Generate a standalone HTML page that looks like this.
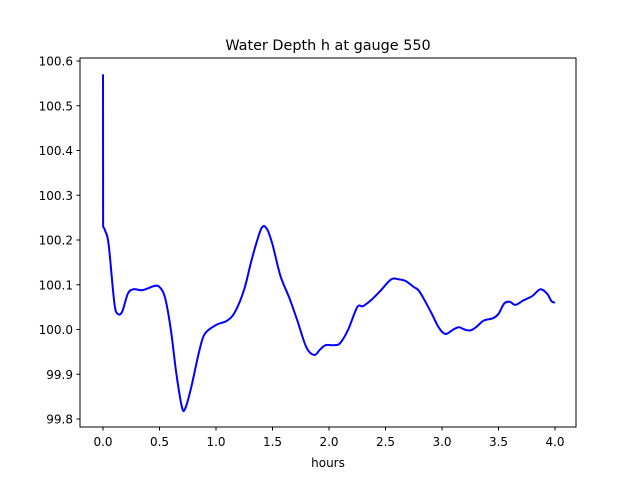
<!DOCTYPE html>
<html><head><meta charset="utf-8"><style>
body{margin:0;background:#fff;}
svg{display:block;font-family:"DejaVu Sans","Liberation Sans",sans-serif;}
</style></head><body>
<svg id="chart" width="640" height="480" viewBox="0 0 640 480" xmlns="http://www.w3.org/2000/svg">
<rect width="640" height="480" fill="#fff"/>
<text x="328" y="50" font-size="14.4" text-anchor="middle">Water Depth h at gauge 550</text>
<g id="plot"></g>
<rect x="80" y="58" width="496" height="369" fill="none" stroke="#000" stroke-width="1"/>
<text x="328" y="467" font-size="12" text-anchor="middle">hours</text>
</svg>
<script>
const times=[0,0.001,0.02,0.05,0.1,0.13,0.17,0.22,0.27,0.35,0.45,0.5,0.55,0.6,0.65,0.7,0.73,0.78,0.85,0.9,1.0,1.1,1.17,1.25,1.32,1.4,1.45,1.5,1.57,1.65,1.72,1.8,1.87,1.92,1.97,2.05,2.1,2.17,2.25,2.3,2.37,2.45,2.55,2.62,2.68,2.75,2.8,2.9,2.97,3.03,3.1,3.15,3.2,3.25,3.3,3.37,3.45,3.5,3.55,3.6,3.65,3.72,3.8,3.87,3.93,3.97,4.0];
const depths=[100.57,100.23,100.22,100.19,100.06,100.035,100.04,100.08,100.09,100.088,100.097,100.095,100.07,100.0,99.9,99.825,99.825,99.87,99.95,99.99,100.01,100.02,100.04,100.09,100.16,100.225,100.225,100.19,100.12,100.07,100.02,99.96,99.943,99.955,99.965,99.965,99.97,100.0,100.05,100.052,100.065,100.085,100.112,100.112,100.108,100.095,100.085,100.04,100.005,99.99,100.0,100.005,100.0,99.998,100.005,100.02,100.025,100.035,100.058,100.062,100.055,100.065,100.075,100.09,100.08,100.063,100.06];
const xTicks=[0,0.5,1,1.5,2,2.5,3,3.5,4];
const xTickLabels=["0.0","0.5","1.0","1.5","2.0","2.5","3.0","3.5","4.0"];
const yTicks=[99.8,99.9,100.0,100.1,100.2,100.3,100.4,100.5,100.6];
const yTickLabels=["99.8","99.9","100.0","100.1","100.2","100.3","100.4","100.5","100.6"];
const xs=t=>103+t*113;
const ys=v=>419-(v-99.8)*447.5;
const g=document.getElementById('plot');
const NS="http://www.w3.org/2000/svg";
xTicks.forEach((t,i)=>{
 const l=document.createElementNS(NS,'line');
 
 
 l.setAttribute('x1',xs(t));l.setAttribute('x2',xs(t));l.setAttribute('y1',427);l.setAttribute('y2',430.5);l.setAttribute('stroke','#000');
 g.appendChild(l);
 const tx=document.createElementNS(NS,'text');
 
 
 tx.setAttribute('x',xs(t));tx.setAttribute('y',446);tx.setAttribute('font-size','12');tx.setAttribute('text-anchor','middle');
 tx.textContent=xTickLabels[i];g.appendChild(tx);
});
yTicks.forEach((v,i)=>{
 const l=document.createElementNS(NS,'line');
 
 
 l.setAttribute('x1',76.5);l.setAttribute('x2',80);l.setAttribute('y1',ys(v));l.setAttribute('y2',ys(v));l.setAttribute('stroke','#000');
 g.appendChild(l);
 const tx=document.createElementNS(NS,'text');
 
 
 tx.setAttribute('x',73);tx.setAttribute('y',ys(v)+4.5);tx.setAttribute('font-size','12');tx.setAttribute('text-anchor','end');
 tx.textContent=yTickLabels[i];g.appendChild(tx);
});
const P=times.map((t,i)=>[xs(t),ys(depths[i])]);
let d='M'+P[0][0]+','+P[0][1]+' L'+P[1][0]+','+P[1][1];
for(let i=1;i<P.length-1;i++){
 const p0=P[Math.max(i-1,1)],p1=P[i],p2=P[i+1],p3=P[Math.min(i+2,P.length-1)];
 const c1=[p1[0]+(p2[0]-p0[0])/6,p1[1]+(p2[1]-p0[1])/6];
 const c2=[p2[0]-(p3[0]-p1[0])/6,p2[1]-(p3[1]-p1[1])/6];
 d+=' C'+c1.join(',')+' '+c2.join(',')+' '+p2.join(',');
}
const p=document.createElementNS(NS,'path');


p.setAttribute('d',d);
p.setAttribute('fill','none');p.setAttribute('stroke','#0000ff');p.setAttribute('stroke-width','2');p.setAttribute('stroke-linejoin','round');
g.appendChild(p);
</script>
</body></html>
